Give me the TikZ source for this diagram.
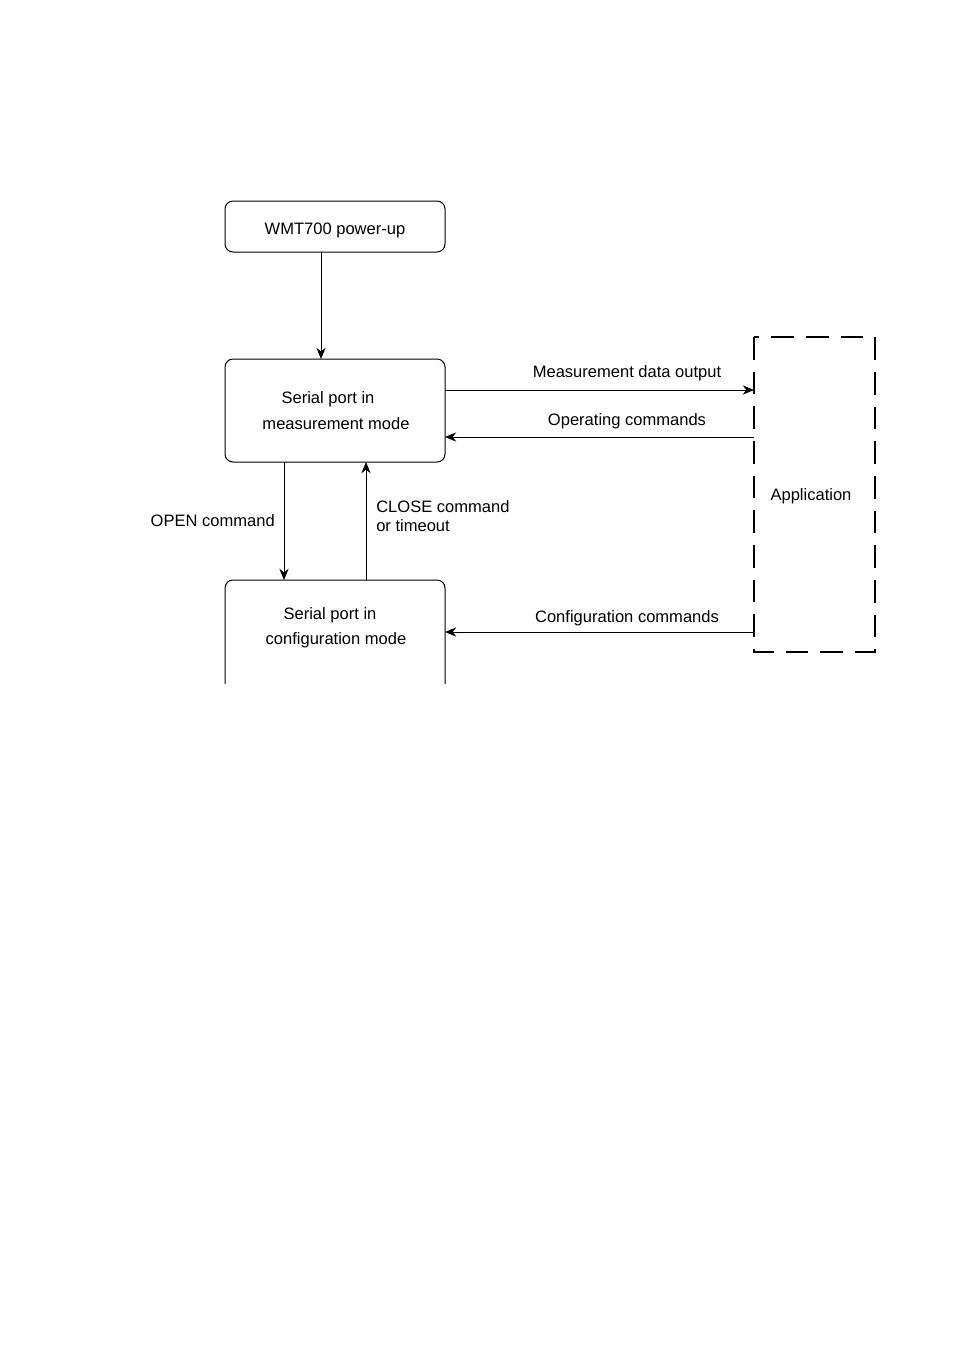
\documentclass[tikz,border=0pt]{standalone}
\usepackage{fontspec}
\setmainfont{Liberation Sans}
\usetikzlibrary{arrows.meta}
\begin{document}
\begin{tikzpicture}[x=0.75pt,y=-0.75pt,
  box/.style={draw, line width=0.75pt, rounded corners=6pt},
  lbl/.style={font=\fontsize{12.4}{15}\selectfont, inner sep=0pt},
  arr/.style={line width=0.75pt, -{Stealth[length=8.5pt,width=7pt,inset=2.8pt]}},
  appbox/.style={draw, line width=1.4pt, dash pattern=on 17pt off 9pt}]
\useasboundingbox (0,0) rectangle (955,1350);
\fill[white] (0,0) rectangle (955,1350);
% boxes
\draw[box] (225,201) rectangle (445,252);
\node[lbl] (pu) at (335,230) {WMT700 power-up};
\coordinate (puB) at (321,252);
\draw[box] (225,359) rectangle (445,462);
\node[lbl] (m1) at (328,399) {Serial port in};
\node[lbl] (m2) at (336,424) {measurement mode};
\begin{scope}
\clip (200,560) rectangle (470,683);
\draw[box] (225,580) rectangle (445,692);
\end{scope}
\node[lbl] (c1) at (330,615) {Serial port in};
\node[lbl] (c2) at (336,640) {configuration mode};
% application
\draw[appbox] (754,337) rectangle (875,652);
\node[lbl] (app) at (811,496) {Application};
% coordinates
\coordinate (mT) at (321,359);
\coordinate (mB1) at (284,462);
\coordinate (mB2) at (366,462);
\coordinate (cT1) at (284,580);
\coordinate (cT2) at (366,580);
\coordinate (mR1) at (445,390);
\coordinate (aL1) at (754,390);
\coordinate (mR2) at (445,437);
\coordinate (aL2) at (754,437);
\coordinate (cR) at (445,632);
\coordinate (aL3) at (754,632);
% connectors
\draw[arr] (puB) -- (mT);
\draw[arr] (mB1) -- (cT1);
\draw[arr] (cT2) -- (mB2);
\draw[arr] (mR1) -- (aL1);
\draw[arr] (aL2) -- (mR2);
\draw[arr] (aL3) -- (cR);
% labels
\node[lbl, anchor=east] (lopen) at (275,521) {OPEN command};
\node[lbl, anchor=west, align=left] (lclose) at (376,516) {CLOSE command\\[-1pt]or timeout};
\node[lbl] (lmd) at (627,373) {Measurement data output};
\node[lbl] (lop) at (627,421) {Operating commands};
\node[lbl] (lcc) at (627,618) {Configuration commands};
\end{tikzpicture}
\end{document}
